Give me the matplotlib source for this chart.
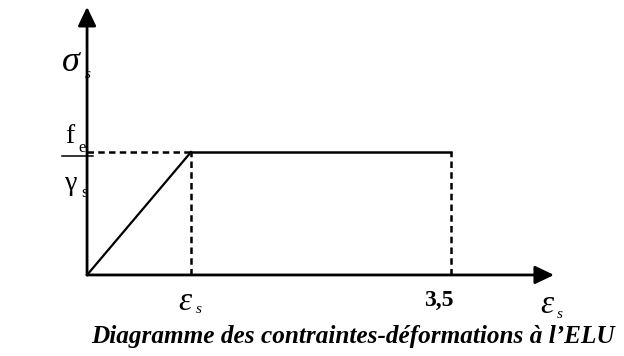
import matplotlib.pyplot as plt

# schematic stress-strain diagram of steel at ULS (ELU)
eps_y = 1.0     # elastic limit strain (schematic)
eps_u = 3.5     # ultimate strain (per mille)
sig_y = 1.0     # fe / gamma_s (schematic)
strain = [0, eps_y, eps_u]
stress = [0, sig_y, sig_y]

plt.rcParams['font.family'] = ['Liberation Serif', 'DejaVu Serif']

fig = plt.figure(figsize=(6.24, 3.56), dpi=100)
ax = fig.add_axes([0, 0, 1, 1])
ax.set_xlim(-0.837, 5.163)
ax.set_ylim(-0.659, 2.236)
ax.axis('off')

# axes with arrows
arrow = dict(arrowstyle='-|>,head_length=1.15,head_width=0.55', mutation_scale=10,
             lw=2.0, color='black', shrinkA=0, shrinkB=0)
ax.annotate('', xy=(0, 2.18), xytext=(0, 0), arrowprops=arrow)
ax.annotate('', xy=(4.49, 0), xytext=(0, 0), arrowprops=arrow)

# curve
ax.plot(strain[:2], stress[:2], color='black', lw=1.6)
ax.plot(strain[1:], stress[1:], color='black', lw=1.8)

# dashed guides
dash = dict(color='black', lw=1.8, dashes=(2.6, 1.7))
ax.plot([0, eps_y], [sig_y, sig_y], **dash)
ax.plot([eps_y, eps_y], [0, sig_y], **dash)
ax.plot([eps_u, eps_u], [0, sig_y], **dash)

# fraction bar for fe / gamma_s
ax.plot([-0.24, 0.06], [sig_y - 0.033] * 2, color='black', lw=1.1)

# labels
ax.text(-0.24, 1.66, 'σ', fontsize=26, style='italic')
ax.text(-0.02, 1.60, 's', fontsize=11, style='italic')
ax.text(-0.21, 1.073, 'f', fontsize=20)
ax.text(-0.087, 1.0, 'e', fontsize=12)
ax.text(-0.21, 0.69, 'γ', fontsize=20)
ax.text(-0.058, 0.634, 's', fontsize=12)

ax.text(0.875, -0.285, 'ε', fontsize=24, style='italic')
ax.text(1.05, -0.31, 's', fontsize=11, style='italic')
ax.text(3.24, -0.252, '3,5', fontsize=17, fontweight='bold')
ax.text(4.356, -0.31, 'ε', fontsize=24, style='italic')
ax.text(4.52, -0.35, 's', fontsize=11, style='italic')

ax.text(2.56, -0.553, 'Diagramme des contraintes-déformations à l’ELU',
        fontsize=18.2, fontweight='bold', style='italic', ha='center')

fig.savefig('out.png', dpi=100)
